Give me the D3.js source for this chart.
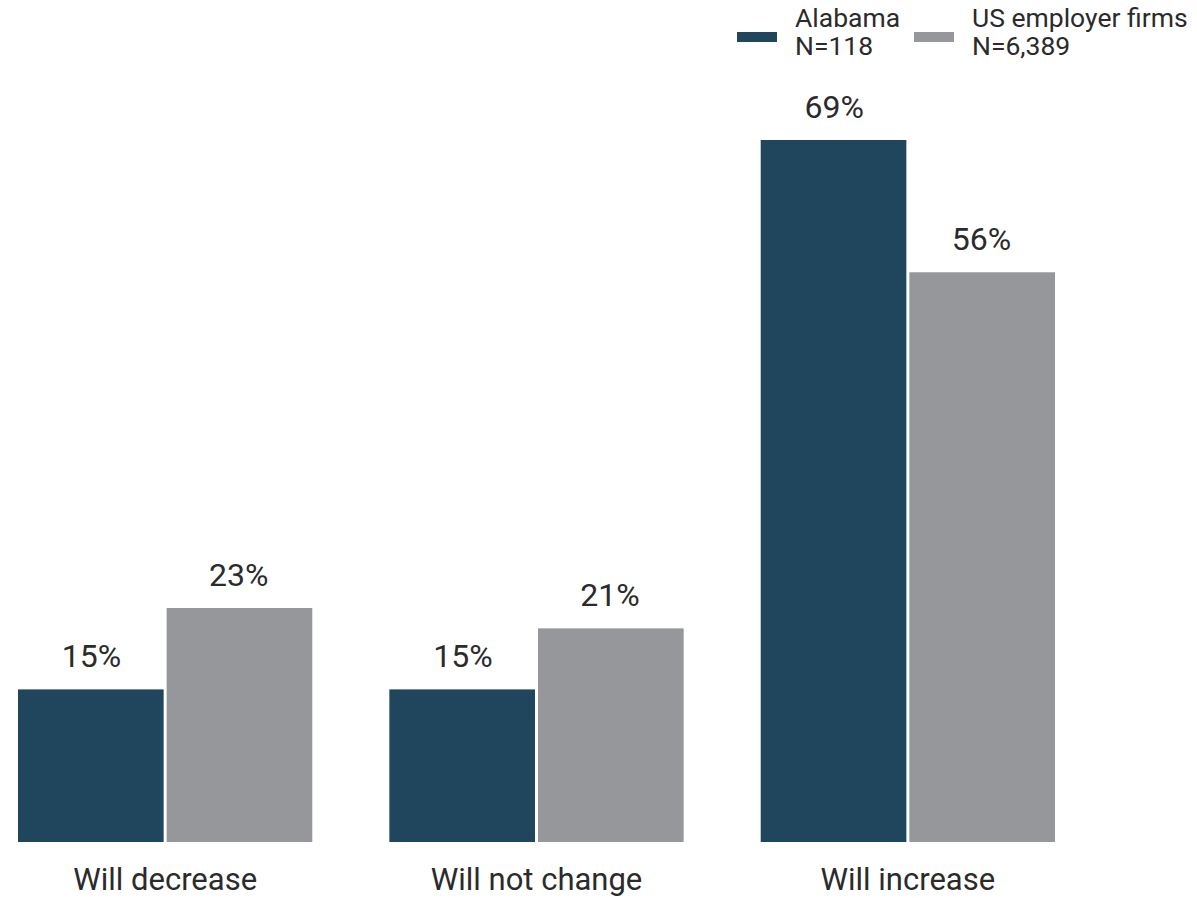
<!DOCTYPE html>
<html><head><meta charset="utf-8">
<script src="https://cdn.jsdelivr.net/npm/d3@7"></script>
<style>body{margin:0;background:#fff}svg{display:block;font-family:Roboto,sans-serif}</style>
</head><body><div id="chart"></div>
<script>
const categories = ["Will decrease", "Will not change", "Will increase"];
const seriesNames = ["Alabama", "US employer firms"];
const seriesN = ["N=118", "N=6,389"];
const alabama = [15, 15, 69];
const usFirms = [23, 21, 56];
const colors = ["#1f465c", "#96979b"];

const W = 1197, H = 898;
const svg = d3.select("#chart").append("svg").attr("width", W).attr("height", H);

const x0 = d3.scaleBand().domain(categories).range([18, 1055]).paddingInner(0.2075).paddingOuter(0);
const x1 = d3.scaleBand().domain(seriesNames).range([0, x0.bandwidth()]).padding(0);
const y = d3.scaleLinear().domain([0, 69]).range([842, 140]);

const data = categories.map((c, i) => ({cat: c, vals: [alabama[i], usFirms[i]]}));

const g = svg.append("g");
const grp = g.selectAll("g.grp").data(data).join("g")
  .attr("transform", d => `translate(${x0(d.cat)},0)`);

grp.selectAll("rect").data(d => d.vals.map((v, k) => ({k, v}))).join("rect")
  .attr("x", d => x1(seriesNames[d.k]) + (d.k === 0 ? 0 : 1.5))
  .attr("width", x1.bandwidth() - 1.5)
  .attr("y", d => y(d.v))
  .attr("height", d => y(0) - y(d.v))
  .attr("fill", d => colors[d.k]);

grp.selectAll("text.val").data(d => d.vals.map((v, k) => ({k, v}))).join("text")
  .attr("class", "val")
  .attr("x", d => x1(seriesNames[d.k]) + x1.bandwidth() / 2)
  .attr("y", d => y(d.v) - 22)
  .attr("text-anchor", "middle")
  .attr("font-size", 32)
  .attr("fill", "#2b2b2b")
  .text(d => d.v + "%");

const xAxis = d3.axisBottom(x0).tickSize(0).tickPadding(0);
const ax = svg.append("g").attr("transform", "translate(0,842)").call(xAxis);
ax.select(".domain").remove();
ax.selectAll("text").attr("font-size", 31).attr("fill", "#2b2b2b")
  .attr("font-family", "Roboto, sans-serif").attr("dy", null).attr("y", 48);

// legend
const legX = [737, 914];
const leg = svg.append("g");
seriesNames.forEach((s, k) => {
  const lg = leg.append("g").attr("transform", `translate(${legX[k]},0)`);
  lg.append("rect").attr("x", 0).attr("y", 32).attr("width", 40).attr("height", 10).attr("fill", colors[k]);
  lg.append("text").attr("x", 58).attr("y", 27).attr("font-size", 26.5).attr("fill", "#2b2b2b").text(s);
  lg.append("text").attr("x", 58).attr("y", 55).attr("font-size", 26.5).attr("fill", "#2b2b2b").text(seriesN[k]);
});
</script></body></html>
